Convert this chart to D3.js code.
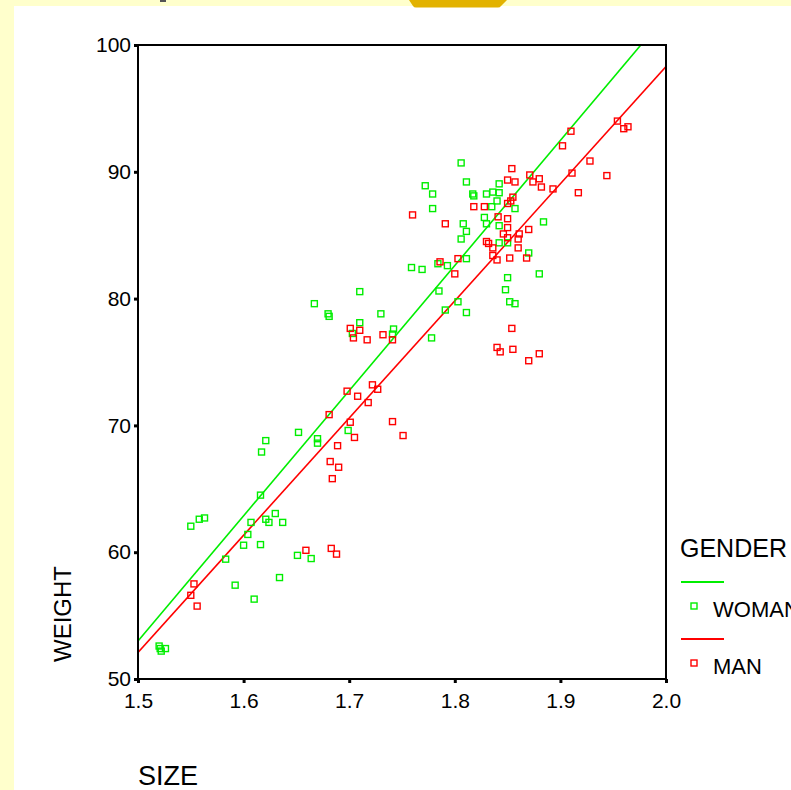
<!DOCTYPE html>
<html>
<head>
<meta charset="utf-8">
<script src="https://cdn.jsdelivr.net/npm/d3@7"></script>
<style>
  html, body { margin: 0; padding: 0; background: #ffffcc; }
  svg { display: block; font-family: "Liberation Sans", Arial, sans-serif; }
</style>
</head>
<body>
<svg id="chart" width="791" height="790"></svg>
<script>
// Body size (m) and weight (kg) by gender
const womanSize = [1.520,1.522,1.526,1.521,1.550,1.558,1.563,1.583,1.592,1.600,1.604,1.607,1.610,1.616,1.617,1.621,1.616,1.621,1.624,1.630,1.634,1.637,1.651,1.664,1.652,1.670,1.670,1.667,1.680,1.681,1.710,1.710,1.730,1.742,1.741,1.703,1.699,1.778,1.785,1.791,1.803,1.811,1.759,1.769,1.784,1.793,1.811,1.806,1.811,1.808,1.806,1.772,1.779,1.779,1.811,1.817,1.818,1.830,1.836,1.842,1.842,1.840,1.835,1.857,1.828,1.830,1.842,1.884,1.842,1.850,1.870,1.850,1.880,1.848,1.852,1.857];
const womanWeight = [52.6,52.2,52.4,52.4,62.05,62.6,62.7,59.45,57.4,60.55,61.4,62.35,56.3,64.5,67.9,68.8,60.6,62.6,62.35,63.05,58.0,62.35,59.75,59.5,69.45,68.95,68.6,79.6,78.8,78.6,80.55,78.1,78.8,77.6,77.2,77.25,69.6,76.9,80.6,79.1,79.75,78.9,82.45,82.3,82.75,82.6,83.15,84.7,85.3,85.9,90.7,88.9,88.25,87.1,89.2,88.25,88.1,88.25,88.4,89.05,88.35,87.7,87.25,87.1,86.4,85.9,85.75,86.05,84.4,84.4,83.6,81.65,81.95,80.7,79.75,79.6];

const manSize = [1.553,1.550,1.556,1.659,1.683,1.688,1.682,1.684,1.690,1.689,1.701,1.705,1.681,1.698,1.708,1.718,1.722,1.727,1.741,1.751,1.701,1.710,1.704,1.717,1.732,1.741,1.760,1.791,1.786,1.803,1.800,1.818,1.828,1.841,1.850,1.850,1.850,1.846,1.870,1.861,1.860,1.830,1.832,1.836,1.860,1.836,1.840,1.852,1.868,1.850,1.853,1.855,1.850,1.857,1.854,1.871,1.874,1.880,1.882,1.893,1.902,1.911,1.917,1.928,1.910,1.944,1.954,1.960,1.964,1.854,1.840,1.843,1.855,1.870,1.880];
const manWeight = [57.5,56.6,55.75,60.15,60.3,59.85,67.15,65.8,66.7,68.4,70.25,69.05,70.85,72.7,72.3,71.8,73.2,72.85,70.3,69.2,77.65,77.5,76.9,76.75,77.15,76.75,86.6,85.9,82.9,83.15,81.95,87.25,87.25,86.45,86.3,85.6,84.8,85.1,85.45,85.1,84.7,84.5,84.35,84.0,84.0,83.4,83.05,83.2,83.2,87.5,87.7,88.0,89.35,89.2,90.25,89.75,89.2,89.45,88.8,88.65,92.05,89.9,88.35,90.85,93.2,89.7,94.0,93.4,93.55,77.65,76.15,75.8,76.0,75.1,75.65];

// Linear fit per group: weight = intercept + slope * size
const groups = ["WOMAN", "MAN"];
const groupColors = ["#00ee00", "#ff0000"];
const fitIntercept = [-95.05, -86.5];
const fitSlope = [98.7, 92.4];

const xTicks = [1.5, 1.6, 1.7, 1.8, 1.9, 2.0];
const yTicks = [50, 60, 70, 80, 90, 100];

const svg = d3.select("#chart");

// white drawing panel on the yellow page
svg.append("rect").attr("x", 14).attr("y", 6).attr("width", 791).attr("height", 790).attr("fill", "#ffffff");
// tab edge peeking in at the top
svg.append("path")
  .attr("d", "M409,0 L507,0 L501,6 Q500,7.5 498,7.5 L416,7.5 Q414,7.5 413,6 Z")
  .attr("fill", "#e2b200");
svg.append("rect").attr("x", 160).attr("y", 0).attr("width", 6).attr("height", 2).attr("fill", "#555");

const x = d3.scaleLinear().domain([1.5, 2.0]).range([138, 666]);
const y = d3.scaleLinear().domain([50, 100]).range([679, 45]);

svg.append("clipPath").attr("id", "plotClip")
  .append("rect").attr("x", 138).attr("y", 45).attr("width", 528).attr("height", 634);

const plot = svg.append("g").attr("clip-path", "url(#plotClip)");

// fit lines
groups.forEach((g, i) => {
  const f = s => fitIntercept[i] + fitSlope[i] * s;
  plot.append("line")
    .attr("x1", x(1.5)).attr("y1", y(f(1.5)))
    .attr("x2", x(2.0)).attr("y2", y(f(2.0)))
    .attr("stroke", groupColors[i]).attr("stroke-width", 1.6);
});

// points
const sq = 6;
function drawPoints(sizes, weights, color) {
  svg.append("g").selectAll("rect")
    .data(d3.zip(sizes, weights))
    .join("rect")
    .attr("x", d => x(d[0]) - sq / 2)
    .attr("y", d => y(d[1]) - sq / 2)
    .attr("width", sq).attr("height", sq)
    .attr("fill", "none")
    .attr("stroke", color).attr("stroke-width", 1.4);
}
drawPoints(womanSize, womanWeight, groupColors[0]);
drawPoints(manSize, manWeight, groupColors[1]);

// frame
svg.append("rect").attr("x", 138).attr("y", 45).attr("width", 528).attr("height", 634)
  .attr("fill", "none").attr("stroke", "#000").attr("stroke-width", 2);

// axes
const xAxis = svg.append("g").attr("transform", "translate(0,679)")
  .call(d3.axisBottom(x).tickValues(xTicks).tickFormat(d3.format(".1f")).tickSize(4).tickPadding(10));
const yAxis = svg.append("g").attr("transform", "translate(138,0)")
  .call(d3.axisLeft(y).tickValues(yTicks).tickSize(4).tickPadding(3));
[xAxis, yAxis].forEach(a => {
  a.select(".domain").remove();
  a.selectAll(".tick line").attr("stroke", "#000").attr("stroke-width", 3);
  a.selectAll(".tick text").attr("fill", "#000").attr("font-size", 21)
    .attr("font-family", "Liberation Sans, Arial, sans-serif");
});

// axis titles
svg.append("text").attr("x", 138).attr("y", 785).attr("font-size", 27).attr("fill", "#000").text("SIZE");
svg.append("text").attr("transform", "translate(71,662) rotate(-90)")
  .attr("font-size", 24).attr("fill", "#000").text("WEIGHT");

// legend
const lg = svg.append("g");
lg.append("text").attr("x", 680).attr("y", 557).attr("font-size", 25).attr("fill", "#000").text("GENDER");
const legendY = [582, 639];
groups.forEach((g, i) => {
  lg.append("line").attr("x1", 681).attr("x2", 724)
    .attr("y1", legendY[i]).attr("y2", legendY[i])
    .attr("stroke", groupColors[i]).attr("stroke-width", 1.8);
  lg.append("rect").attr("x", 691).attr("y", legendY[i] + 21).attr("width", 6).attr("height", 6)
    .attr("fill", "none").attr("stroke", groupColors[i]).attr("stroke-width", 1.4);
  lg.append("text").attr("x", 713).attr("y", legendY[i] + 35).attr("font-size", 22)
    .attr("fill", "#000").text(g);
});
</script>
</body>
</html>
